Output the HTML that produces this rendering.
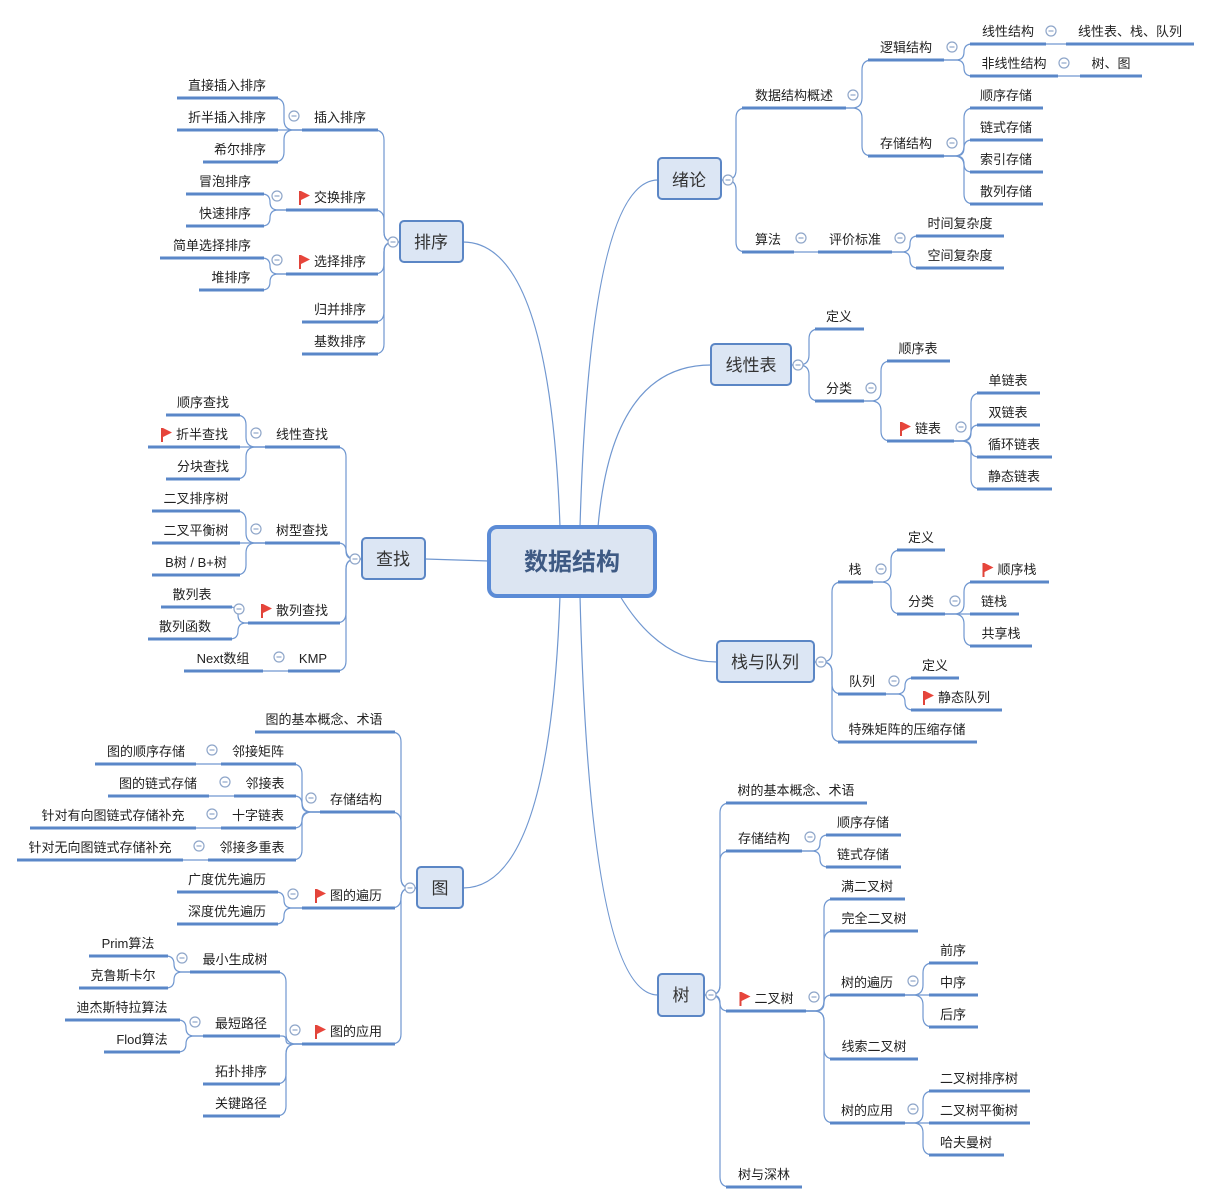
<!DOCTYPE html>
<html><head><meta charset="utf-8"><style>
html,body{margin:0;padding:0;background:#fff;}
svg{display:block;}
text{font-family:"Liberation Sans","Noto Sans CJK SC",sans-serif;font-size:13px;fill:#222;text-anchor:middle;}
.b{font-size:17px;fill:#333;}
.r{font-size:24px;font-weight:bold;fill:#3e5a84;}
</style></head><body>
<svg id="s" width="1212" height="1204" viewBox="0 0 1212 1204" xmlns="http://www.w3.org/2000/svg">
<g id="edges" fill="none" stroke="#7097d0" stroke-width="1.2"></g>
<g id="ul" stroke="#5a87c8" stroke-width="3"></g>
<g id="ic"></g>
<!-- root connectors -->
<g fill="none" stroke="#7097d0" stroke-width="1.2">
<path d="M580,527 Q590,180 658,180"/>
<path d="M598,527 Q612,365 711,365"/>
<path d="M620,596 Q660,662 717,662"/>
<path d="M580,596 Q590,995 658,995"/>
<path d="M560,527 Q550,242 463,242"/>
<path d="M489,561 L425,559"/>
<path d="M560,596 Q550,888 463,888"/>
</g>
<!-- boxes -->
<rect x="489" y="527" width="166" height="69" rx="8" fill="#dce5f2" stroke="#5b8bd6" stroke-width="4"/>
<text class="r" x="572" y="570">数据结构</text>
<rect x="658" y="158" width="63" height="41" rx="4" fill="#dce6f4" stroke="#5b86c5" stroke-width="2"/><text class="b" x="689" y="186">绪论</text>
<rect x="711" y="344" width="80" height="41" rx="4" fill="#dce6f4" stroke="#5b86c5" stroke-width="2"/><text class="b" x="751" y="371">线性表</text>
<rect x="717" y="641" width="97" height="41" rx="4" fill="#dce6f4" stroke="#5b86c5" stroke-width="2"/><text class="b" x="765" y="668">栈与队列</text>
<rect x="658" y="974" width="46" height="42" rx="4" fill="#dce6f4" stroke="#5b86c5" stroke-width="2"/><text class="b" x="681" y="1001">树</text>
<rect x="400" y="221" width="63" height="41" rx="4" fill="#dce6f4" stroke="#5b86c5" stroke-width="2"/><text class="b" x="431" y="248">排序</text>
<rect x="362" y="538" width="63" height="41" rx="4" fill="#dce6f4" stroke="#5b86c5" stroke-width="2"/><text class="b" x="393" y="565">查找</text>
<rect x="417" y="867" width="46" height="41" rx="4" fill="#dce6f4" stroke="#5b86c5" stroke-width="2"/><text class="b" x="440" y="894">图</text>

<g id="t">
<!-- 绪论 -->
<text x="794" y="100">数据结构概述</text>
<text x="906" y="52">逻辑结构</text>
<text x="1008" y="36">线性结构</text>
<text x="1130" y="36">线性表、栈、队列</text>
<text x="1014" y="68">非线性结构</text>
<text x="1111" y="68">树、图</text>
<text x="906" y="148">存储结构</text>
<text x="1006" y="100">顺序存储</text>
<text x="1006" y="132">链式存储</text>
<text x="1006" y="164">索引存储</text>
<text x="1006" y="196">散列存储</text>
<text x="768" y="244">算法</text>
<text x="855" y="244">评价标准</text>
<text x="960" y="228">时间复杂度</text>
<text x="960" y="260">空间复杂度</text>
<!-- 线性表 -->
<text x="839" y="321">定义</text>
<text x="839" y="393">分类</text>
<text x="918" y="353">顺序表</text>
<text class="f" x="928" y="433">链表</text>
<text x="1008" y="385">单链表</text>
<text x="1008" y="417">双链表</text>
<text x="1014" y="449">循环链表</text>
<text x="1014" y="481">静态链表</text>
<!-- 栈与队列 -->
<text x="855" y="574">栈</text>
<text x="921" y="542">定义</text>
<text x="921" y="606">分类</text>
<text class="f" x="1017" y="574">顺序栈</text>
<text x="994" y="606">链栈</text>
<text x="1001" y="638">共享栈</text>
<text x="862" y="686">队列</text>
<text x="935" y="670">定义</text>
<text class="f" x="964" y="702">静态队列</text>
<text x="907" y="734">特殊矩阵的压缩存储</text>
<!-- 树 -->
<text x="796" y="795">树的基本概念、术语</text>
<text x="764" y="843">存储结构</text>
<text x="863" y="827">顺序存储</text>
<text x="863" y="859">链式存储</text>
<text class="f" x="774" y="1003">二叉树</text>
<text x="867" y="891">满二叉树</text>
<text x="874" y="923">完全二叉树</text>
<text x="867" y="987">树的遍历</text>
<text x="953" y="955">前序</text>
<text x="953" y="987">中序</text>
<text x="953" y="1019">后序</text>
<text x="874" y="1051">线索二叉树</text>
<text x="867" y="1115">树的应用</text>
<text x="979" y="1083">二叉树排序树</text>
<text x="979" y="1115">二叉树平衡树</text>
<text x="966" y="1147">哈夫曼树</text>
<text x="764" y="1179">树与深林</text>
<!-- 排序 -->
<text x="340" y="122">插入排序</text>
<text x="227" y="90">直接插入排序</text>
<text x="227" y="122">折半插入排序</text>
<text x="240" y="154">希尔排序</text>
<text class="f" x="340" y="202">交换排序</text>
<text x="225" y="186">冒泡排序</text>
<text x="225" y="218">快速排序</text>
<text class="f" x="340" y="266">选择排序</text>
<text x="212" y="250">简单选择排序</text>
<text x="231" y="282">堆排序</text>
<text x="340" y="314">归并排序</text>
<text x="340" y="346">基数排序</text>
<!-- 查找 -->
<text x="302" y="439">线性查找</text>
<text x="203" y="407">顺序查找</text>
<text class="f" x="202" y="439">折半查找</text>
<text x="203" y="471">分块查找</text>
<text x="302" y="535">树型查找</text>
<text x="196" y="503">二叉排序树</text>
<text x="196" y="535">二叉平衡树</text>
<text x="196" y="567">B树 / B+树</text>
<text class="f" x="302" y="615">散列查找</text>
<text x="192" y="599">散列表</text>
<text x="185" y="631">散列函数</text>
<text x="313" y="663">KMP</text>
<text x="223" y="663">Next数组</text>
<!-- 图 -->
<text x="324" y="724">图的基本概念、术语</text>
<text x="356" y="804">存储结构</text>
<text x="258" y="756">邻接矩阵</text>
<text x="146" y="756">图的顺序存储</text>
<text x="265" y="788">邻接表</text>
<text x="158" y="788">图的链式存储</text>
<text x="258" y="820">十字链表</text>
<text x="113" y="820">针对有向图链式存储补充</text>
<text x="252" y="852">邻接多重表</text>
<text x="100" y="852">针对无向图链式存储补充</text>
<text class="f" x="356" y="900">图的遍历</text>
<text x="227" y="884">广度优先遍历</text>
<text x="227" y="916">深度优先遍历</text>
<text class="f" x="356" y="1036">图的应用</text>
<text x="235" y="964">最小生成树</text>
<text x="128" y="948">Prim算法</text>
<text x="123" y="980">克鲁斯卡尔</text>
<text x="241" y="1028">最短路径</text>
<text x="122" y="1012">迪杰斯特拉算法</text>
<text x="142" y="1044">Flod算法</text>
<text x="241" y="1076">拓扑排序</text>
<text x="241" y="1108">关键路径</text>
</g>
<g id="fl"></g>
</svg>
<script>
var NS="http://www.w3.org/2000/svg";
function el(tag,attrs,parent){var e=document.createElementNS(NS,tag);for(var k in attrs)e.setAttribute(k,attrs[k]);parent.appendChild(e);return e;}
var U=[[742,846,108],[868,944,60],[970,1046,44],[1066,1194,44],[970,1058,76],[1080,1142,76],[868,944,156],[970,1043,108],[970,1043,140],[970,1043,172],[970,1043,204],[742,794,252],[818,892,252],[916,1004,236],[916,1004,268],
[815,864,329],[815,864,401],[887,950,361],[887,954,441],[977,1040,393],[977,1040,425],[977,1052,457],[977,1052,489],
[838,873,582],[897,945,550],[897,945,614],[970,1049,582],[970,1019,614],[970,1032,646],[838,886,694],[911,959,678],[911,1002,710],[838,977,742],
[726,867,803],[726,802,851],[826,901,835],[826,901,867],[726,806,1011],[830,905,899],[830,918,931],[830,905,995],[929,978,963],[929,978,995],[929,978,1027],[830,918,1059],[830,905,1123],[929,1030,1091],[929,1030,1123],[929,1004,1155],[726,802,1187],
[302,378,130],[177,278,98],[177,278,130],[203,278,162],[286,378,210],[186,264,194],[186,264,226],[286,378,274],[160,264,258],[199,264,290],[302,378,322],[302,378,354],
[265,340,447],[166,240,415],[148,240,447],[166,240,479],[265,340,543],[152,240,511],[152,240,543],[152,240,575],[248,340,623],[161,232,607],[148,232,639],[288,340,671],[184,263,671],
[255,395,732],[320,395,812],[221,296,764],[95,196,764],[234,296,796],[108,209,796],[221,296,828],[30,196,828],[208,296,860],[17,183,860],[302,395,908],[177,278,892],[177,278,924],[302,395,1044],[190,280,972],[89,168,956],[79,168,988],[203,280,1036],[65,180,1020],[104,180,1052],[203,280,1084],[203,280,1116]];
var ul=document.getElementById('ul');
U.forEach(function(u){el('line',{x1:u[0],x2:u[1],y1:u[2],y2:u[2]},ul);});
// right edges: [pe,py,cs,[cy...]]
var R=[[721,180,742,[108,252]],[846,108,868,[60,156]],[944,60,970,[44,76]],[1046,44,1066,[44]],[1058,76,1080,[76]],[944,156,970,[108,140,172,204]],[794,252,818,[252]],[892,252,916,[236,268]],
[791,365,815,[329,401]],[864,401,887,[361,441]],[954,441,977,[393,425,457,489]],
[814,662,838,[582,694,742]],[873,582,897,[550,614]],[945,614,970,[582,614,646]],[886,694,911,[678,710]],
[704,995,726,[803,851,1011,1187]],[802,851,826,[835,867]],[806,1011,830,[899,931,995,1059,1123]],[905,995,929,[963,995,1027]],[905,1123,929,[1091,1123,1155]]];
var L=[[400,242,378,[130,210,274,322,354]],[302,130,278,[98,130,162]],[286,210,264,[194,226]],[286,274,264,[258,290]],
[362,559,340,[447,543,623,671]],[265,447,240,[415,447,479]],[265,543,240,[511,543,575]],[248,623,232,[607,639]],[288,671,263,[671]],
[417,888,395,[732,812,908,1044]],[320,812,296,[764,796,828,860]],[221,764,196,[764]],[234,796,209,[796]],[221,828,196,[828]],[208,860,183,[860]],[302,908,278,[892,924]],[302,1044,280,[972,1036,1084,1116]],[190,972,168,[956,988]],[203,1036,180,[1020,1052]]];
var eg=document.getElementById('edges');
function elbow(pe,py,c,cy,dir){
  if(Math.abs(cy-py)<1){return 'M'+pe+','+py+' H'+c;}
  var t=dir>0?c-6:c+6;var s=cy>py?1:-1;var r=Math.min(10,Math.abs(cy-py)/2);
  return 'M'+pe+','+py+' H'+(t-dir*r)+' Q'+t+','+py+' '+t+','+(py+s*r)+' V'+(cy-s*r)+' Q'+t+','+cy+' '+(t+dir*r)+','+cy+' H'+c;
}
R.forEach(function(a){a[3].forEach(function(cy){el('path',{d:elbow(a[0],a[1],a[2],cy,1)},eg);});});
L.forEach(function(a){a[3].forEach(function(cy){el('path',{d:elbow(a[0],a[1],a[2],cy,-1)},eg);});});
var I=[[728,180],[853,95],[952,47],[1051,31],[1064,63],[952,143],[801,238],[900,238],[798,365],[871,388],[961,427],[821,662],[881,569],[955,601],[894,681],[711,995],[810,837],[814,997],[913,981],[913,1109],
[393,242],[294,116],[277,196],[277,260],[355,559],[256,433],[256,529],[239,609],[279,657],[410,888],[311,798],[212,750],[225,782],[212,814],[199,846],[293,894],[295,1030],[182,958],[195,1022]];
var ic=document.getElementById('ic');
I.forEach(function(p){el('circle',{cx:p[0],cy:p[1],r:5,fill:'#fff',stroke:'#8fa6c9','stroke-width':1.2},ic);el('line',{x1:p[0]-2.5,x2:p[0]+2.5,y1:p[1],y2:p[1],stroke:'#8fa6c9','stroke-width':1.2},ic);});
var fl=document.getElementById('fl');
Array.prototype.forEach.call(document.querySelectorAll('text.f'),function(t){var b=t.getBBox();var x=b.x-15,y=t.getAttribute('y')*1;
el('rect',{x:x,y:y-11,width:2,height:14,fill:'#e0443a'},fl);el('polygon',{points:(x+2)+','+(y-11)+' '+(x+11)+','+(y-6.5)+' '+(x+2)+','+(y-2),fill:'#e8453b'},fl);});
</script>
</body></html>
